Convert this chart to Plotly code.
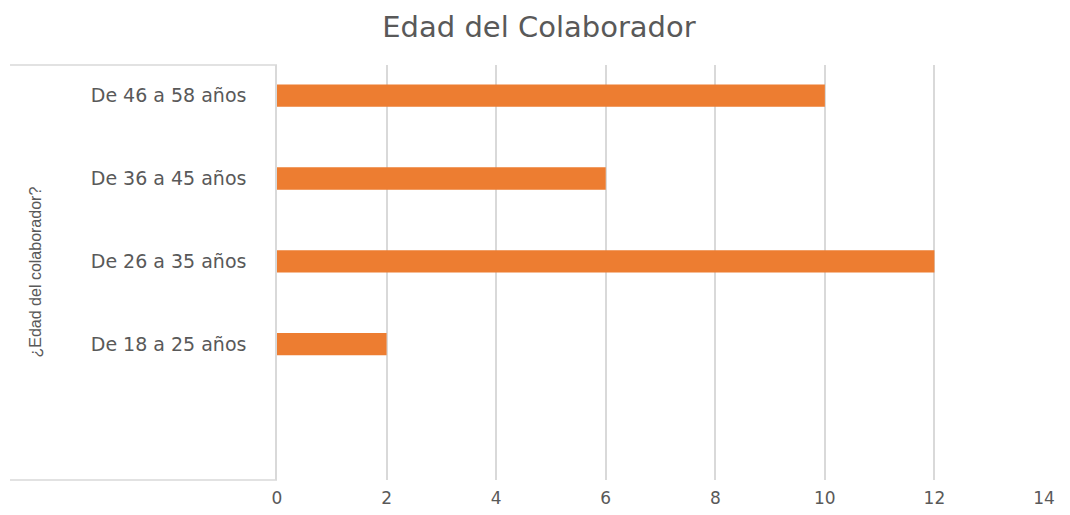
import plotly.graph_objects as go

# datos
categorias = ["De 18 a 25 años", "De 26 a 35 años", "De 36 a 45 años", "De 46 a 58 años"]
colaboradores = [2, 12, 6, 10]
ticks_x = [0, 2, 4, 6, 8, 10, 12, 14]

GRIS_LINEA = "#d9d9d9"
GRIS_TEXTO = "#595959"

# la pagina deja 8px de margen en el body: la figura se reduce para caber
ANCHO, ALTO = 1062, 507

fig = go.Figure()
fig.add_trace(go.Bar(
    x=colaboradores,
    y=categorias,
    orientation="h",
    width=0.27,
    marker=dict(color="#ED7D31", line=dict(width=0)),
))

fig.update_layout(
    width=ANCHO,
    height=ALTO,
    margin=dict(l=269, r=26, t=57, b=35),
    paper_bgcolor="white",
    plot_bgcolor="white",
    showlegend=False,
    title=dict(
        text="Edad del Colaborador",
        x=0.5, xref="container", xanchor="center",
        y=1 - 19 / ALTO, yanchor="middle",
        font=dict(family="DejaVu Sans", size=29, color=GRIS_TEXTO),
    ),
    xaxis=dict(
        range=[0, 14],
        tickvals=ticks_x,
        showgrid=True,
        gridcolor=GRIS_LINEA,
        gridwidth=1.5,
        zeroline=False,
        showline=False,
        ticks="",
        ticklabelstandoff=6,
        automargin=False,
        tickfont=dict(family="DejaVu Sans", size=17, color=GRIS_TEXTO),
    ),
    yaxis=dict(
        type="category",
        categoryorder="array",
        categoryarray=categorias,
        range=[-1.64, 3.37],
        showgrid=False,
        zeroline=False,
        showline=True,
        linecolor=GRIS_LINEA,
        linewidth=1.5,
        ticks="",
        ticklabelstandoff=25,
        automargin=False,
        tickfont=dict(family="DejaVu Sans", size=19, color=GRIS_TEXTO),
    ),
)

# bordes de la tabla de categorias (arriba y abajo, a la izquierda del eje)
x_izq = (10 - 277) / 767
for y_borde in (0, 1):
    fig.add_shape(
        type="line", xref="paper", yref="paper",
        x0=x_izq, x1=0, y0=y_borde, y1=y_borde,
        line=dict(color=GRIS_LINEA, width=1.5),
    )

fig.add_annotation(
    text="¿Edad del colaborador?",
    xref="paper", yref="paper",
    x=(35 - 277) / 767, y=0.5,
    xanchor="center", yanchor="middle",
    textangle=-90, showarrow=False,
    font=dict(family="Liberation Sans Narrow, Liberation Sans", size=16, color=GRIS_TEXTO),
)

fig.write_html("out.html")
